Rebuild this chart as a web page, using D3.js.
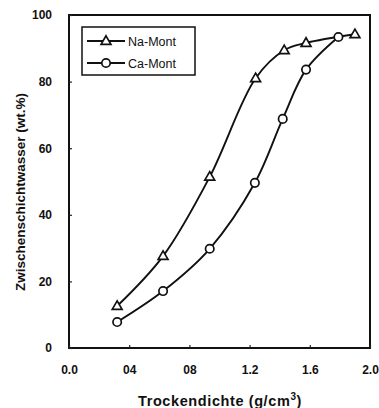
<!DOCTYPE html>
<html>
<head>
<meta charset="utf-8">
<script src="https://cdn.jsdelivr.net/npm/d3@7/dist/d3.min.js"></script>
<style>
  html, body { margin: 0; padding: 0; background: #fff; }
  svg { display: block; font-family: "Liberation Sans", Arial, sans-serif; }
</style>
</head>
<body>
<svg id="chart" width="379" height="408"></svg>
<script>
// Dry density (g/cm3) vs interlayer water (wt.%)
const naDensity = [0.32, 0.625, 0.935, 1.24, 1.43, 1.575, 1.90];
const naWater   = [12.6, 27.6, 51.4, 81.0, 89.4, 91.6, 94.2];
const caDensity = [0.32, 0.625, 0.935, 1.235, 1.42, 1.575, 1.79];
const caWater   = [7.8, 17.1, 29.8, 49.6, 68.8, 83.6, 93.4];
const seriesNames = ["Na-Mont", "Ca-Mont"];
const xTicks = [0.0, 0.4, 0.8, 1.2, 1.6, 2.0];
const xTickLabels = ["0.0", "04", "08", "1.2", "1.6", "2.0"];
const yTicks = [0, 20, 40, 60, 80, 100];

const svg = d3.select("#chart");
const plot = { left: 69, right: 370, top: 15, bottom: 348 };

const x = d3.scaleLinear().domain([0, 2.0]).range([plot.left, plot.right]);
const y = d3.scaleLinear().domain([0, 100]).range([plot.bottom, plot.top]);

// frame
svg.append("rect")
  .attr("x", plot.left).attr("y", plot.top)
  .attr("width", plot.right - plot.left).attr("height", plot.bottom - plot.top)
  .attr("fill", "none").attr("stroke", "#111").attr("stroke-width", 2);

// axes with inward ticks
const xAxis = d3.axisBottom(x).tickValues(xTicks)
  .tickFormat((d, i) => xTickLabels[i]).tickSizeInner(-3).tickSizeOuter(0).tickPadding(17);
const gx = svg.append("g").attr("transform", `translate(0,${plot.bottom})`).call(xAxis);
gx.select(".domain").remove();
gx.selectAll("line").attr("stroke", "#222").attr("stroke-width", 1.2);
gx.selectAll("text").attr("font-size", 12).attr("font-weight", "bold").attr("fill", "#111");

const yAxis = d3.axisLeft(y).tickValues(yTicks)
  .tickSizeInner(-3).tickSizeOuter(0).tickPadding(17);
const gy = svg.append("g").attr("transform", `translate(${plot.left},0)`).call(yAxis);
gy.select(".domain").remove();
gy.selectAll("line").attr("stroke", "#222").attr("stroke-width", 1.2);
gy.selectAll("text").attr("font-size", 12).attr("font-weight", "bold").attr("fill", "#111");

// axis titles
svg.append("text")
  .attr("transform", "translate(25,192) rotate(-90)")
  .attr("text-anchor", "middle")
  .attr("font-size", 13.5).attr("font-weight", "bold").attr("fill", "#111")
  .text("Zwischenschichtwasser (wt.%)");

const xt = svg.append("text")
  .attr("x", 220).attr("y", 406)
  .attr("text-anchor", "middle")
  .attr("font-size", 14.5).attr("font-weight", "bold").attr("fill", "#111")
  .attr("letter-spacing", 0.6);
xt.append("tspan").text("Trockendichte (g/cm");
xt.append("tspan").attr("font-size", 10).attr("dy", -6).text("3");
xt.append("tspan").attr("dy", 6).text(")");

// curves
const line = d3.line().x(d => x(d[0])).y(d => y(d[1])).curve(d3.curveCatmullRom.alpha(0.5));
const naPts = naDensity.map((d, i) => [d, naWater[i]]);
const caPts = caDensity.map((d, i) => [d, caWater[i]]);

[naPts, caPts].forEach(pts => {
  svg.append("path").datum(pts).attr("d", line)
    .attr("fill", "none").attr("stroke", "#111").attr("stroke-width", 1.9);
});

const tri = d3.symbol().type(d3.symbolTriangle).size(42);
function drawTri(g, cx, cy) {
  g.append("path").attr("d", tri).attr("transform", `translate(${cx},${cy + 0.5})`)
    .attr("fill", "#fff").attr("stroke", "#111").attr("stroke-width", 1.7);
}
function drawCirc(g, cx, cy) {
  g.append("circle").attr("cx", cx).attr("cy", cy).attr("r", 4.2)
    .attr("fill", "#fff").attr("stroke", "#111").attr("stroke-width", 1.7);
}

const marks = svg.append("g");
naPts.forEach(p => drawTri(marks, x(p[0]), y(p[1])));
caPts.forEach(p => drawCirc(marks, x(p[0]), y(p[1])));

// legend
const lg = svg.append("g");
lg.append("rect").attr("x", 82).attr("y", 27).attr("width", 113).attr("height", 48)
  .attr("fill", "#fff").attr("stroke", "#111").attr("stroke-width", 1.5);
const legendRows = [41, 63];
seriesNames.forEach((name, i) => {
  const ly = legendRows[i];
  lg.append("line").attr("x1", 87).attr("x2", 125).attr("y1", ly).attr("y2", ly)
    .attr("stroke", "#111").attr("stroke-width", 1.8);
  if (i === 0) drawTri(lg, 106, ly); else drawCirc(lg, 106, ly);
  lg.append("text").attr("x", 128).attr("y", ly + 4.5)
    .attr("font-size", 12.5).attr("fill", "#111").text(name);
});
</script>
</body>
</html>
